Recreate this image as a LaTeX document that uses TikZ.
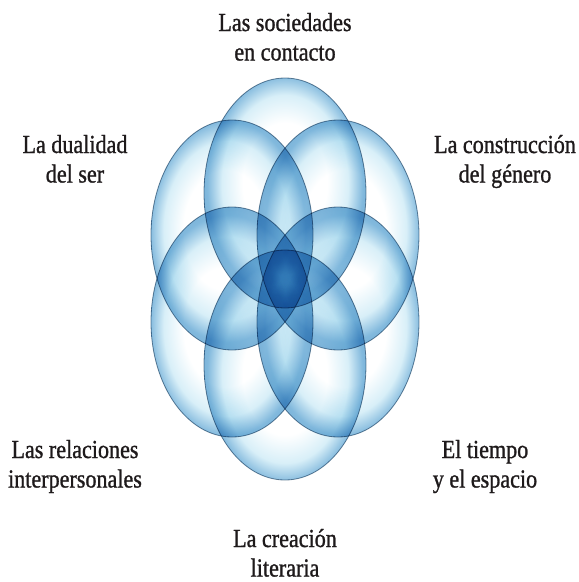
\documentclass[tikz,border=0pt]{standalone}
\usepackage{fontspec}
\setmainfont{Liberation Serif}[FakeStretch=0.85,FakeBold=1]
\definecolor{bubmid}{RGB}{216,239,248}
\definecolor{bubedge}{RGB}{130,185,221}
\definecolor{bubdark}{RGB}{118,175,214}
\definecolor{bubline}{RGB}{112,138,158}
\definecolor{txt}{RGB}{30,26,27}
\pgfdeclareradialshading{bubT}{\pgfpoint{0bp}{3bp}}{color(0bp)=(white); color(13bp)=(white); color(19.5bp)=(bubmid); color(24bp)=(bubedge); color(27bp)=(bubdark); color(50bp)=(bubdark)}
\pgfdeclareradialshading{bubB}{\pgfpoint{0bp}{-3bp}}{color(0bp)=(white); color(13bp)=(white); color(19.5bp)=(bubmid); color(24bp)=(bubedge); color(27bp)=(bubdark); color(50bp)=(bubdark)}
\pgfdeclareradialshading{bubUL}{\pgfpoint{-2.6bp}{1.5bp}}{color(0bp)=(white); color(13bp)=(white); color(19.5bp)=(bubmid); color(24bp)=(bubedge); color(27bp)=(bubdark); color(50bp)=(bubdark)}
\pgfdeclareradialshading{bubUR}{\pgfpoint{2.6bp}{1.5bp}}{color(0bp)=(white); color(13bp)=(white); color(19.5bp)=(bubmid); color(24bp)=(bubedge); color(27bp)=(bubdark); color(50bp)=(bubdark)}
\pgfdeclareradialshading{bubLL}{\pgfpoint{-2.6bp}{-1.5bp}}{color(0bp)=(white); color(13bp)=(white); color(19.5bp)=(bubmid); color(24bp)=(bubedge); color(27bp)=(bubdark); color(50bp)=(bubdark)}
\pgfdeclareradialshading{bubLR}{\pgfpoint{2.6bp}{-1.5bp}}{color(0bp)=(white); color(13bp)=(white); color(19.5bp)=(bubmid); color(24bp)=(bubedge); color(27bp)=(bubdark); color(50bp)=(bubdark)}
\newcommand\twol[2]{\begin{tabular}[t]{@{}c@{}}#1\\#2\end{tabular}}
\tikzset{
  bubble/.style={draw=bubline, line width=0.8pt, blend mode=multiply},
  lbl/.style={anchor=base, inner sep=0pt, text=txt, font=\fontsize{26}{29.5}\selectfont}
}
\begin{document}
\begin{tikzpicture}[x=1pt,y=-1pt]
\useasboundingbox[fill=white] (0,0) rectangle (579,582);
\path[bubble, shade, shading=bubT]  (285,193) ellipse [x radius=81pt, y radius=115pt];
\path[bubble, shade, shading=bubUL] (232,235) ellipse [x radius=81pt, y radius=115pt];
\path[bubble, shade, shading=bubUR] (338,235) ellipse [x radius=81pt, y radius=115pt];
\path[bubble, shade, shading=bubLL] (232,322) ellipse [x radius=81pt, y radius=115pt];
\path[bubble, shade, shading=bubLR] (338,322) ellipse [x radius=81pt, y radius=115pt];
\path[bubble, shade, shading=bubB]  (285,365) ellipse [x radius=81pt, y radius=115pt];
\node[lbl] (soc) at (285,31)  {\twol{Las sociedades}{en contacto}};
\node[lbl] (dua) at (75,153)  {\twol{La dualidad}{del ser}};
\node[lbl] (gen) at (505,153) {\twol{La construcción}{del género}};
\node[lbl] (rel) at (75,458)  {\twol{Las relaciones}{interpersonales}};
\node[lbl] (tie) at (485,458) {\twol{El tiempo}{y el espacio}};
\node[lbl] (cre) at (285,547) {\twol{La creación}{literaria}};
\end{tikzpicture}
\end{document}
